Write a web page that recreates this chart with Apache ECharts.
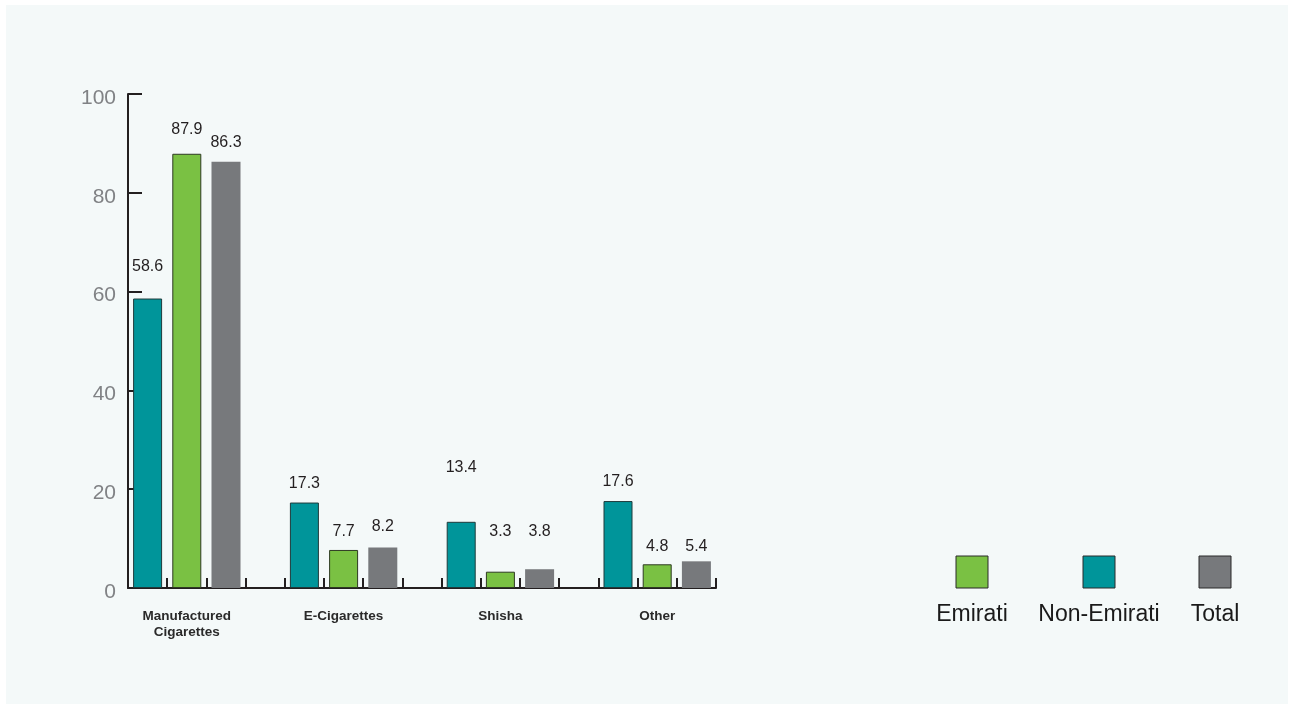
<!DOCTYPE html>
<html>
<head>
<meta charset="utf-8">
<script src="https://cdn.jsdelivr.net/npm/echarts@6/dist/echarts.min.js"></script>
<style>
  html, body { margin: 0; padding: 0; background: #ffffff; }
  #chart { width: 1292px; height: 708px; }
</style>
</head>
<body>
<div id="chart"></div>
<script>
// Tobacco product use by nationality group (%)
const categories = ['Manufactured\nCigarettes', 'E-Cigarettes', 'Shisha', 'Other'];
const emirati    = [87.9, 7.7, 3.3, 4.8];
const nonEmirati = [58.6, 17.3, 13.4, 17.6];
const total      = [86.3, 8.2, 3.8, 5.4];
const yTicks     = [0, 20, 40, 60, 80, 100];

// Gap (px) between each bar top and its value label
const liftNonEmirati = [24, 11, 46, 11.5];
const liftEmirati    = [16, 10, 32, 10];
const liftTotal      = [11.5, 13, 30, 7];

const seriesDefs = [
  { name: 'Non-Emirati', values: nonEmirati, lift: liftNonEmirati, color: '#00959a', border: '#1f3a3b', slot: 0 },
  { name: 'Emirati',     values: emirati,    lift: liftEmirati,    color: '#7ac143', border: '#2e3a22', slot: 1 },
  { name: 'Total',       values: total,      lift: liftTotal,      color: '#77797c', border: null,      slot: 2 }
];

// Each group takes three bar slots plus one empty spacer slot between groups.
const SLOTS_PER_GROUP = 4;
const slotCount = categories.length * SLOTS_PER_GROUP - 1;
const slotLabels = [];
for (let i = 0; i < slotCount; i++) {
  const g = Math.floor(i / SLOTS_PER_GROUP);
  slotLabels.push(i % SLOTS_PER_GROUP === 1 ? categories[g] : '');
}

const FONT = '"Liberation Sans", Arial, Helvetica, sans-serif';

function slotData(def) {
  const arr = new Array(slotCount).fill('-');
  def.values.forEach((v, g) => {
    arr[g * SLOTS_PER_GROUP + def.slot] = {
      value: v,
      label: { distance: def.lift[g] }
    };
  });
  return arr;
}

const series = seriesDefs.map(d => ({
  name: d.name,
  type: 'bar',
  barWidth: 29,
  barGap: '-100%',
  data: slotData(d),
  itemStyle: {
    color: d.color,
    borderColor: d.border || d.color,
    borderWidth: d.border ? 1 : 0
  },
  label: {
    show: true,
    position: 'top',
    fontFamily: FONT,
    fontSize: 16,
    color: '#231f20',
    formatter: p => p.value.toFixed(1)
  }
}));

// Legend drawn as swatch-over-text items
const legendOrder = [
  { name: 'Emirati',     color: '#7ac143', cx: 972 },
  { name: 'Non-Emirati', color: '#00959a', cx: 1099 },
  { name: 'Total',       color: '#77797c', cx: 1215 }
];
const legendGraphics = [];
legendOrder.forEach(item => {
  legendGraphics.push({
    type: 'rect',
    shape: { x: item.cx - 16, y: 556, width: 32, height: 32 },
    style: { fill: item.color, stroke: '#2b2b2b', lineWidth: 1 }
  });
  legendGraphics.push({
    type: 'text',
    x: item.cx, y: 615,
    style: {
      text: item.name, fill: '#1a1a1a', fontFamily: FONT, fontSize: 23,
      textAlign: 'center', textVerticalAlign: 'middle'
    }
  });
});

const chart = echarts.init(document.getElementById('chart'), null, { renderer: 'canvas' });
chart.setOption({
  animation: false,
  backgroundColor: '#ffffff',
  graphic: [
    {
      type: 'rect', z: -10, silent: true,
      shape: { x: 6, y: 5, width: 1282, height: 699 },
      style: { fill: '#f4f9f9' }
    }
  ].concat(legendGraphics),
  grid: { left: 128, right: 576, top: 94, bottom: 120, containLabel: false },
  xAxis: {
    type: 'category',
    data: slotLabels,
    boundaryGap: true,
    axisLine: { show: true, lineStyle: { color: '#231f20', width: 2 } },
    axisTick: { show: true, inside: true, length: 10, interval: 0, lineStyle: { color: '#231f20', width: 2 } },
    axisLabel: {
      interval: 0, margin: 20, fontFamily: FONT, fontSize: 13.5, fontWeight: 'bold',
      color: '#2a2a2a', lineHeight: 16, align: 'center'
    },
    splitLine: { show: false }
  },
  yAxis: {
    type: 'value',
    min: yTicks[0],
    max: yTicks[yTicks.length - 1],
    interval: yTicks[1] - yTicks[0],
    axisLine: { show: true, lineStyle: { color: '#231f20', width: 2 } },
    axisTick: { show: true, inside: true, length: 14, lineStyle: { color: '#231f20', width: 2 } },
    axisLabel: {
      margin: 12, fontFamily: FONT, fontSize: 21, color: '#808285',
      formatter: v => '{v|' + v + '}',
      rich: { v: { fontFamily: FONT, fontSize: 21, color: '#808285', padding: [8, 0, 0, 0] } }
    },
    splitLine: { show: false }
  },
  series: series
});
</script>
</body>
</html>
